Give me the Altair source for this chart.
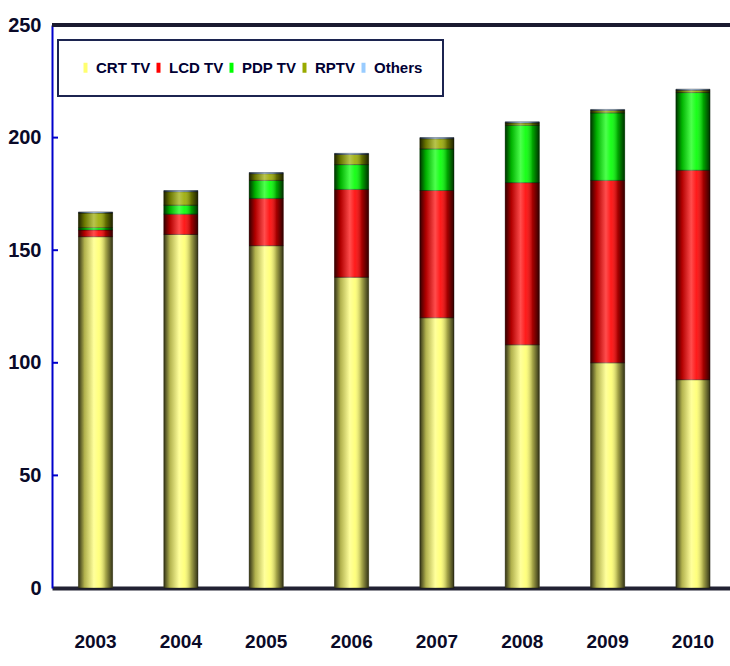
import altair as alt
import pandas as pd

years = ["2003", "2004", "2005", "2006", "2007", "2008", "2009", "2010"]
series = ["CRT TV", "LCD TV", "PDP TV", "RPTV", "Others"]
crt = [156, 157, 152, 138, 120, 108, 100, 92.5]
lcd = [3, 9, 21, 39, 56.5, 72, 81, 93]
pdp = [1, 4, 8, 11, 18.5, 25.5, 30, 34.5]
rptv = [6.5, 6, 3, 4.5, 4.5, 1, 1, 1]
others = [0.5, 0.5, 0.5, 0.5, 0.5, 0.5, 0.5, 0.5]
colors = ["#FFFF70", "#FF0000", "#00FF00", "#99AA00", "#99CCFF"]
y_ticks = [0, 50, 100, 150, 200, 250]
inner_ticks = [50, 100, 150, 200]

rows = []
for si, (name, vals) in enumerate(zip(series, [crt, lcd, pdp, rptv, others])):
    for y, v in zip(years, vals):
        rows.append({"year": y, "series": name, "value": v, "order": si})
df = pd.DataFrame(rows)

FONT = "Liberation Sans, Arial, sans-serif"

xscale = alt.Scale(paddingInner=0.6, paddingOuter=0.272, align=0.57)
yscale = alt.Scale(domain=[0, 250], nice=False)

base = alt.Chart(df)

bars = base.mark_bar(stroke="#000000", strokeWidth=1, strokeOpacity=0.4).encode(
    x=alt.X("year:N", sort=years, scale=xscale,
            axis=alt.Axis(title=None, labelAngle=0, ticks=False, labelPadding=44,
                          labelFontSize=19, labelFont=FONT, labelFontWeight="bold",
                          labelColor="#0a0a28", domainColor="#222233", domainWidth=4)),
    y=alt.Y("value:Q", stack="zero", scale=yscale,
            axis=alt.Axis(title=None, values=y_ticks, grid=False, ticks=False,
                          labelPadding=11, labelFontSize=20, labelFont=FONT,
                          labelFontWeight="bold", labelColor="#0a0a28",
                          domainColor="#0000CC", domainWidth=2)),
    color=alt.Color("series:N", sort=series,
                    scale=alt.Scale(domain=series, range=colors),
                    legend=alt.Legend(title=None, orient="none", legendX=6, legendY=15,
                                      direction="horizontal", columns=5,
                                      padding=20, strokeColor="#1c2450",
                                      fillColor="white",
                                      labelFontSize=15, labelFont=FONT,
                                      labelFontWeight="bold", labelColor="#000033",
                                      symbolType="M-0.4,-1H0.4V1H-0.4Z",
                                      symbolSize=100, symbolStrokeWidth=0,
                                      columnPadding=0, labelOffset=3)),
    order=alt.Order("order:Q"),
)

shade = base.mark_bar(
    color=alt.Gradient(
        gradient="linear", x1=0, x2=1, y1=0, y2=0,
        stops=[
            alt.GradientStop(color="rgba(0,0,0,0.8)", offset=0),
            alt.GradientStop(color="rgba(0,0,0,0.3)", offset=0.18),
            alt.GradientStop(color="rgba(255,255,255,0.3)", offset=0.45),
            alt.GradientStop(color="rgba(255,255,255,0.1)", offset=0.6),
            alt.GradientStop(color="rgba(0,0,0,0.35)", offset=0.8),
            alt.GradientStop(color="rgba(0,0,0,0.8)", offset=1),
        ],
    )
).encode(
    x=alt.X("year:N", sort=years, scale=xscale),
    y=alt.Y("sum(value):Q", scale=yscale),
)

tick_df = pd.DataFrame({"t": inner_ticks})
yticks = alt.Chart(tick_df).mark_rule(color="#0000CC", strokeWidth=2).encode(
    y=alt.Y("t:Q", scale=yscale),
    x=alt.value(0), x2=alt.value(6),
)

top_df = pd.DataFrame({"t": [250]})
top_line = alt.Chart(top_df).mark_rule(color="#1a1a30", strokeWidth=4).encode(
    y=alt.Y("t:Q", scale=yscale),
    x=alt.value(0), x2=alt.value(678),
)

chart = alt.layer(bars, shade, yticks, top_line).properties(
    width=678, height=563,
    autosize=alt.AutoSizeParams(type="none"),
    padding={"left": 52, "top": 25, "right": 0, "bottom": 78},
).configure_view(stroke=None).configure(background="white").configure_legend(strokeWidth=2)

chart.save("out.html", embed_options={"renderer": "svg", "actions": False})
